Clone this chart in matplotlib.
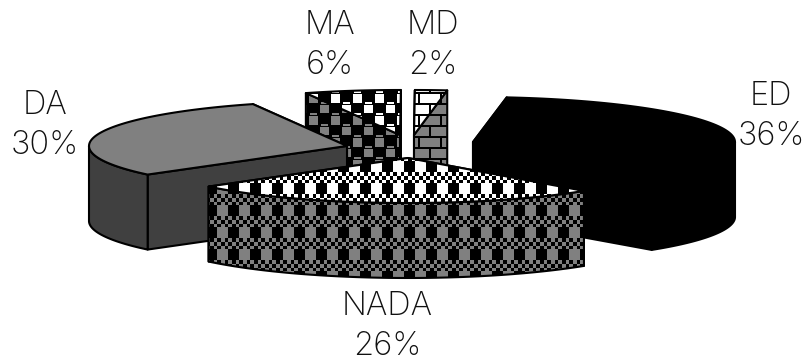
import numpy as np
import matplotlib
matplotlib.use("Agg")
import matplotlib.pyplot as plt
from matplotlib.patches import Polygon

categories = ["ED", "NADA", "DA", "MA", "MD"]
percents = [36, 26, 30, 6, 2]

W, H = 809, 360
START_DEG = 7.4
RY = 45
DEPTH = 75
# apex of every exploded slice, in pixels
centers = {"ED": (473, 142), "NADA": (408, 158), "DA": (347, 146), "MA": (400, 135), "MD": (414, 135)}
radius_x = {"ED": 262, "NADA": 258, "DA": 258, "MA": 258, "MD": 258}
# centre x and first baseline of each two line label
label_xy = {"ED": (771, 105), "NADA": (387, 315), "DA": (45, 114), "MA": (330, 34), "MD": (433, 34)}
LINE_GAP = 40


def tile_plaid():
    t = np.zeros((22, 22))
    t[:11, 11:] = 1
    for r in range(11, 22):
        for c in range(22):
            t[r, c] = ((r - 11) * 3 // 11 + c * 3 // 11) % 2 == 0
    return t


def tile_dots():
    t = np.zeros((22, 22))
    t[3:12, 2:11] = 1
    t[14:22, 13:22] = 1
    t[0:2, 3:10] = 1
    t[11:13, 14:21] = 1
    return t


def tile_brick():
    t = np.ones((22, 22))
    t[9:11, :] = 0
    t[20:22, :] = 0
    t[:9, 4:6] = 0
    t[11:20, 15:17] = 0
    return t


def canvas(tile, fg, bg, dx, dy):
    h, w = tile.shape
    img = np.tile(tile, (H // h + 2, W // w + 2))
    img = np.roll(np.roll(img, dy, axis=0), dx, axis=1)[:H, :W]
    return bg + (fg - bg) * img


fig = plt.figure(figsize=(W / 100, H / 100), dpi=100)
ax = fig.add_axes([0, 0, 1, 1])


def rim(name, t0, t1, n=80):
    cx, cy = centers[name]
    a = np.radians(np.linspace(t0, t1, n))
    return np.column_stack([cx + radius_x[name] * np.sin(a), cy - RY * np.cos(a)])


def draw_face(pts, paint):
    # paint is either a flat colour or a full canvas pattern clipped to the face
    if isinstance(paint, np.ndarray):
        patch = Polygon(pts, closed=True, fc="none", ec="none")
        ax.add_patch(patch)
        im = ax.imshow(paint, extent=(0, W, H, 0), cmap="gray", vmin=0, vmax=1,
                       interpolation="nearest", aspect="auto", zorder=1)
        im.set_clip_path(patch)
        ax.add_patch(Polygon(pts, closed=True, fc="none", ec="black", lw=1.5, joinstyle="round", zorder=1))
    else:
        ax.add_patch(Polygon(pts, closed=True, fc=paint, ec="black", lw=1.5, joinstyle="round", zorder=1))


def draw_slice(name, t0, t1, top, side):
    cx, cy = centers[name]
    apex = np.array([cx, cy])
    down = np.array([0, DEPTH])
    ends = rim(name, t0, t1, 2)
    # cut faces, the one facing away first
    order = sorted(ends.tolist(), key=lambda p: p[1])
    for e in order:
        e = np.array(e)
        draw_face([apex, e, e + down, apex + down], side)
    # outer wall only where the rim faces front
    lo, hi = max(t0, 90), min(t1, 270)
    if lo < hi:
        arc = rim(name, lo, hi)
        draw_face(np.vstack([arc, (arc + down)[::-1]]), side)
    draw_face(np.vstack([apex, rim(name, t0, t1)]), top)


angles = START_DEG + np.cumsum([0] + percents) * 3.6
spans = {c: (angles[i], angles[i + 1]) for i, c in enumerate(categories)}

gray = 0.5
plaid_side = canvas(tile_plaid(), gray, 0.0, 8, 7)
plaid_top = canvas(tile_plaid(), 1.0, 0.0, 8, 7)
dots_side = canvas(tile_dots(), gray, 0.0, 21, 3)
dots_top = canvas(tile_dots(), 1.0, 0.0, 21, 3)
brick_side = canvas(tile_brick(), gray, 0.0, 18, 6)
brick_top = canvas(tile_brick(), 1.0, 0.0, 18, 6)

draw_slice("MA", *spans["MA"], dots_top, dots_side)
draw_slice("MD", *spans["MD"], brick_top, brick_side)
draw_slice("ED", *spans["ED"], "black", "black")
draw_slice("DA", *spans["DA"], "#808080", "#404040")
draw_slice("NADA", *spans["NADA"], plaid_top, plaid_side)

ax.set_xlim(0, W)
ax.set_ylim(H, 0)
ax.axis("off")

for c, p in zip(categories, percents):
    x, y = label_xy[c]
    ax.text(x, y, c, ha="center", va="baseline", family="Inter", weight="light",
            fontsize=23.5, color="#111111", zorder=10)
    ax.text(x, y + LINE_GAP, f"{p}%", ha="center", va="baseline", family="Inter", weight="light",
            fontsize=23.5, color="#111111", zorder=10)

# bottom of a heading that runs off the top edge
ax.text(650, -3, "g", ha="center", va="baseline", family="Lato", fontsize=14, color="black", clip_on=False)

fig.savefig("out.png", dpi=100)
